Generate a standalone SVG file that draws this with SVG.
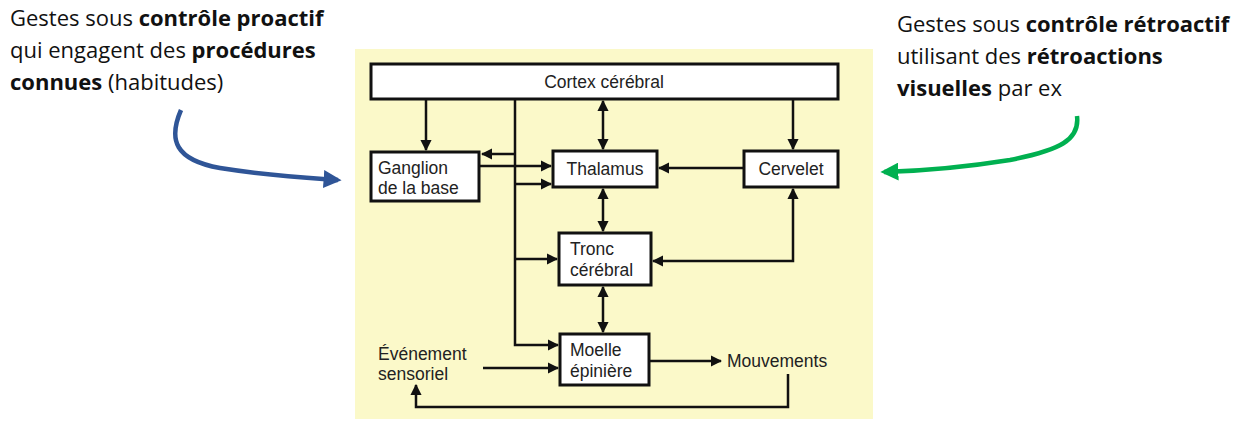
<svg xmlns="http://www.w3.org/2000/svg" width="1252" height="433" viewBox="0 0 1252 433">
<style>
.box{fill:#fff;stroke:#111;stroke-width:3}
.n{font-family:"Liberation Sans",Arial,sans-serif;font-size:17.5px;fill:#222}
.c{stroke:#111;stroke-width:2.5;fill:none}
.t{font-family:"Open Sans","Liberation Sans",sans-serif;font-size:22px;fill:#111}
</style>
<defs>
<marker id="a" viewBox="0 0 10 10" refX="9" refY="5" markerWidth="4.5" markerHeight="4.5" orient="auto-start-reverse"><path d="M0,0L10,5L0,10z" fill="#111"/></marker>
<marker id="b" viewBox="0 0 10 10" refX="8" refY="5" markerWidth="4" markerHeight="4" orient="auto"><path d="M0,0L10,5L0,10z" fill="#2f5597"/></marker>
<marker id="g" viewBox="0 0 10 10" refX="8" refY="5" markerWidth="4" markerHeight="4" orient="auto"><path d="M0,0L10,5L0,10z" fill="#00b050"/></marker>
</defs>
<rect x="0" y="0" width="1252" height="433" fill="#fff"/>
<rect x="355" y="49" width="518" height="370" fill="#fbf9c9"/>
<text class="t" x="10" y="26">Gestes sous <tspan font-weight="bold">contrôle proactif</tspan></text>
<text class="t" x="10" y="58">qui engagent des <tspan font-weight="bold">procédures</tspan></text>
<text class="t" x="10" y="90"><tspan font-weight="bold">connues</tspan> (habitudes)</text>
<text class="t" x="897" y="32">Gestes sous <tspan font-weight="bold">contrôle rétroactif</tspan></text>
<text class="t" x="897" y="64">utilisant des <tspan font-weight="bold">rétroactions</tspan></text>
<text class="t" x="897" y="96"><tspan font-weight="bold">visuelles</tspan> par ex</text>
<path d="M181,110 C168,140 175,160 220,168 C270,176 310,178 338,180" stroke="#2f5597" stroke-width="4.5" fill="none" marker-end="url(#b)"/>
<path d="M1077,116 C1080,140 1060,150 1010,160 C960,168 920,171 884,172" stroke="#00b050" stroke-width="4.5" fill="none" marker-end="url(#g)"/>
<g id="connectors">
<path class="c" d="M426,99V150" marker-end="url(#a)"/>
<path class="c" d="M603,101V149" marker-start="url(#a)" marker-end="url(#a)"/>
<path class="c" d="M793,99V149" marker-end="url(#a)"/>
<path class="c" d="M515,99V345H558" marker-end="url(#a)"/>
<path class="c" d="M515,154H482" marker-end="url(#a)"/>
<path class="c" d="M515,184H551" marker-end="url(#a)"/>
<path class="c" d="M515,259H557" marker-end="url(#a)"/>
<path class="c" d="M479,166H551" marker-end="url(#a)"/>
<path class="c" d="M744,168H659" marker-end="url(#a)"/>
<path class="c" d="M603,189V231" marker-start="url(#a)" marker-end="url(#a)"/>
<path class="c" d="M653,261H793V189" marker-start="url(#a)" marker-end="url(#a)"/>
<path class="c" d="M603,287V332" marker-start="url(#a)" marker-end="url(#a)"/>
<path class="c" d="M483,368H558" marker-end="url(#a)"/>
<path class="c" d="M649,361H721" marker-end="url(#a)"/>
<path class="c" d="M788,374V407H416V385" marker-end="url(#a)"/>
</g>
<g id="cortex"><rect class="box" x="371" y="64" width="467" height="35"/><text class="n" x="604" y="88" text-anchor="middle">Cortex cérébral</text></g>
<g id="ganglion"><rect class="box" x="371" y="152" width="108" height="49"/><text class="n" x="378" y="174">Ganglion</text><text class="n" x="378" y="194">de la base</text></g>
<g id="thalamus"><rect class="box" x="553" y="151" width="104" height="36"/><text class="n" x="605" y="175" text-anchor="middle">Thalamus</text></g>
<g id="cervelet"><rect class="box" x="744" y="151" width="94" height="36"/><text class="n" x="791" y="175" text-anchor="middle">Cervelet</text></g>
<g id="tronc"><rect class="box" x="559" y="233" width="92" height="52"/><text class="n" x="570" y="255">Tronc</text><text class="n" x="570" y="276">cérébral</text></g>
<g id="moelle"><rect class="box" x="560" y="334" width="89" height="51"/><text class="n" x="570" y="356">Moelle</text><text class="n" x="570" y="377">épinière</text></g>
<g id="evenement"><text class="n" x="378" y="360">Événement</text><text class="n" x="378" y="380">sensoriel</text></g>
<g id="mouvements"><text class="n" x="727" y="367">Mouvements</text></g>
</svg>
